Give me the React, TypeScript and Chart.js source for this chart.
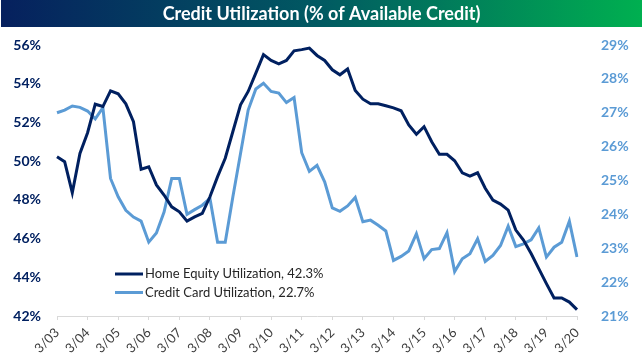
import React, { useEffect, useRef } from "react";
import { Chart, registerables } from "chart.js";

Chart.register(...registerables);

const TITLE = "Credit Utilization (% of Available Credit)";

const years = ["03","04","05","06","07","08","09","10","11","12","13","14","15","16","17","18","19","20"];
const quarterMonths = ["3", "6", "9", "12"];
const categories: string[] = years
  .flatMap((y) => quarterMonths.map((m) => `${m}/${y}`))
  .slice(0, 69);

const homeEquity = [
  50.23, 49.97, 48.37, 50.4, 51.47, 52.94, 52.82, 53.63, 53.48, 52.96, 52.04, 49.58,
  49.71, 48.77, 48.25, 47.64, 47.38, 46.9, 47.12, 47.3, 48.16, 49.2, 50.15, 51.53,
  52.91, 53.6, 54.55, 55.5, 55.2, 55.03, 55.2, 55.7, 55.76, 55.84, 55.46, 55.2,
  54.72, 54.46, 54.76, 53.65, 53.2, 52.96, 52.96, 52.86, 52.75, 52.6, 51.87, 51.39,
  51.78, 51.0, 50.35, 50.35, 50.02, 49.4, 49.23, 49.4, 48.6, 47.99, 47.78, 47.47,
  46.44, 45.92, 45.23, 44.45, 43.67, 42.93, 42.93, 42.72, 42.33,
];

const creditCard = [
  27.0, 27.08, 27.2, 27.16, 27.05, 26.82, 27.15, 25.06, 24.52, 24.12, 23.92, 23.8,
  23.18, 23.45, 24.07, 25.06, 25.06, 24.0, 24.14, 24.27, 24.47, 23.18, 23.18, 24.52,
  25.8, 27.08, 27.7, 27.87, 27.63, 27.58, 27.3, 27.45, 25.82, 25.27, 25.45, 24.96,
  24.19, 24.09, 24.25, 24.5, 23.78, 23.83, 23.68, 23.51, 22.64, 22.76, 22.92, 23.43,
  22.69, 22.96, 22.99, 23.46, 22.31, 22.69, 22.84, 23.28, 22.61, 22.79, 23.08, 23.65,
  23.05, 23.13, 23.25, 23.6, 22.74, 23.03, 23.18, 23.8, 22.74,
];

const seriesNames = ["Home Equity Utilization", "Credit Card Utilization"];
const NAVY = "#002060";
const LIGHT = "#5B9BD5";
const FONT = "Lato, 'Liberation Sans', sans-serif";

const titlePlugin = {
  id: "titleBar",
  beforeDraw(chart: any) {
    const { ctx, width } = chart;
    ctx.save();
    ctx.fillStyle = "#ffffff";
    ctx.fillRect(0, 0, width, chart.height);
    const g = ctx.createLinearGradient(0, 0, width, 0);
    g.addColorStop(0, "#06205e");
    g.addColorStop(0.5, "#015a62");
    g.addColorStop(1, "#00b050");
    ctx.fillStyle = g;
    ctx.fillRect(1, 0, width - 2, 27);
    ctx.fillStyle = "#ffffff";
    ctx.font = `bold 18px ${FONT}`;
    ctx.textAlign = "center";
    ctx.textBaseline = "middle";
    ctx.fillText(TITLE, width / 2, 14);
    ctx.restore();
  },
};

const legendPlugin = {
  id: "innerLegend",
  afterDraw(chart: any) {
    const { ctx } = chart;
    ctx.save();
    ctx.font = `13px ${FONT}`;
    ctx.textBaseline = "middle";
    ctx.textAlign = "left";
    const rows = [274, 292.5];
    chart.data.datasets.forEach((ds: any, i: number) => {
      const y = rows[i];
      ctx.strokeStyle = ds.borderColor;
      ctx.lineWidth = 3;
      ctx.beginPath();
      ctx.moveTo(115, y);
      ctx.lineTo(143, y);
      ctx.stroke();
      ctx.fillStyle = "#262626";
      ctx.fillText(ds.label, 145, y);
    });
    ctx.restore();
  },
};

export default function App() {
  const ref = useRef<HTMLCanvasElement>(null);
  useEffect(() => {
    if (!ref.current) return;
    const chart = new Chart(ref.current, {
      type: "line",
      data: {
        labels: categories,
        datasets: [
          {
            label: `${seriesNames[0]}, ${homeEquity[homeEquity.length - 1].toFixed(1)}%`,
            data: homeEquity,
            borderColor: NAVY,
            backgroundColor: NAVY,
            borderWidth: 3,
            pointRadius: 0,
            tension: 0,
            yAxisID: "y",
          },
          {
            label: `${seriesNames[1]}, ${creditCard[creditCard.length - 1].toFixed(1)}%`,
            data: creditCard,
            borderColor: LIGHT,
            backgroundColor: LIGHT,
            borderWidth: 3,
            pointRadius: 0,
            tension: 0,
            yAxisID: "y1",
          },
        ],
      },
      options: {
        animation: false,
        responsive: false,
        maintainAspectRatio: false,
        layout: { padding: { top: 45, left: 0, right: 0, bottom: 0 } },
        plugins: { legend: { display: false }, tooltip: { enabled: false } },
        scales: {
          x: {
            type: "category",
            offset: false,
            grid: {
              display: true,
              drawOnChartArea: false,
              drawTicks: true,
              tickLength: 4,
              color: (c: any) => (c.index % 4 === 0 ? "#d9d9d9" : "rgba(0,0,0,0)"),
            },
            border: { display: true, color: "#d9d9d9", width: 1 },
            ticks: {
              autoSkip: false,
              minRotation: 45,
              maxRotation: 45,
              padding: 5,
              color: "#404040",
              font: { family: FONT, size: 13 },
              callback: (_v: any, i: number) => (i % 4 === 0 ? categories[i] : ""),
            },
            afterFit: (s: any) => {
              s.height = 45;
            },
          },
          y: {
            position: "left",
            min: 42,
            max: 56,
            grid: { display: false, drawTicks: false },
            border: { display: false },
            ticks: {
              stepSize: 2,
              padding: 16,
              color: NAVY,
              font: { family: FONT, size: 14, weight: "bold" },
              callback: (v: any) => `${v}%`,
            },
            afterFit: (s: any) => {
              s.width = 57;
            },
          },
          y1: {
            position: "right",
            min: 21,
            max: 29,
            grid: { display: false, drawTicks: false },
            border: { display: false },
            ticks: {
              stepSize: 1,
              padding: 24,
              color: LIGHT,
              font: { family: FONT, size: 14, weight: "bold" },
              callback: (v: any) => `${v}%`,
            },
            afterFit: (s: any) => {
              s.width = 66;
            },
          },
        },
      },
      plugins: [titlePlugin, legendPlugin],
    });
    return () => chart.destroy();
  }, []);
  return (
    <div style={{ position: "fixed", left: 0, top: 0, width: 643, height: 361, background: "#fff" }}>
      <canvas ref={ref} width={643} height={361} style={{ width: 643, height: 361, display: "block" }} />
    </div>
  );
}
